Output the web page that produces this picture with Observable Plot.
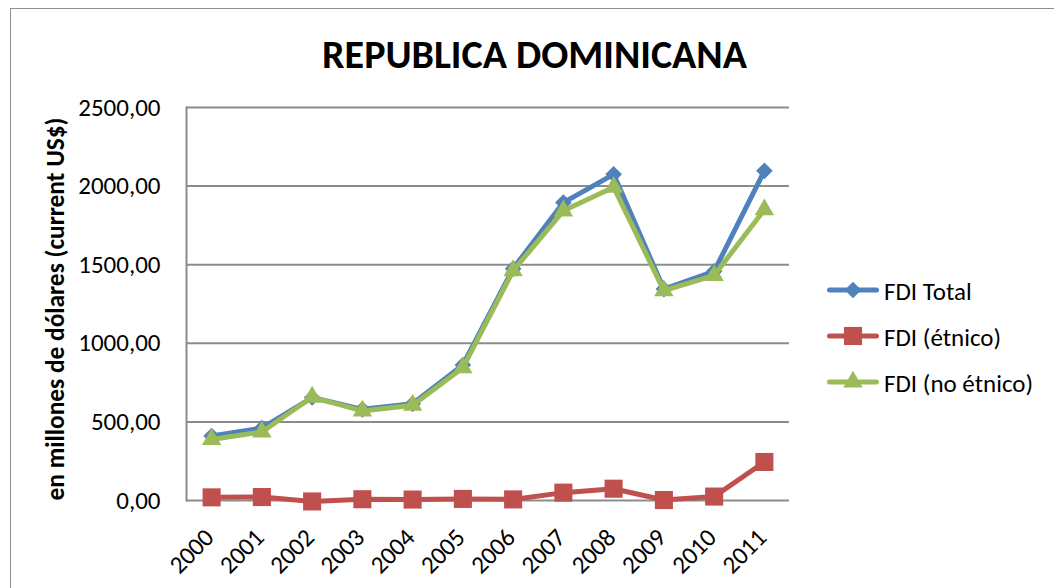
<!DOCTYPE html>
<html><head><meta charset="utf-8">
<script src="https://cdn.jsdelivr.net/npm/d3@7"></script>
<script src="https://cdn.jsdelivr.net/npm/@observablehq/plot@0.6"></script>
<style>
html,body{margin:0;padding:0;background:#fff;overflow:hidden;}
#wrap{position:relative;width:1054px;height:588px;font-family:Carlito,Lato,sans-serif;color:#000;overflow:hidden;}
#border{position:absolute;left:10px;top:8px;width:1200px;height:800px;border:1px solid #8f8f8f;box-sizing:border-box;}
#chart{position:absolute;left:0;top:0;}
#title{position:absolute;left:534.5px;top:29.5px;transform:translateX(-50%);font-weight:700;font-size:40px;white-space:nowrap;}
#ylabel{position:absolute;left:55px;top:309px;transform:translate(-50%,-50%) rotate(-90deg);font-weight:700;font-size:25.4px;white-space:nowrap;}
.leg{position:absolute;left:827px;height:30px;display:flex;align-items:center;font-size:25px;white-space:nowrap;}
.leg svg{margin-right:5px;}
</style></head><body>
<div id="wrap">
  <div id="border"></div>
  <div id="title">REPUBLICA DOMINICANA</div>
  <div id="ylabel">en millones de dólares (current US$)</div>
  <div id="chart"></div>
</div>
<script>
const years = ["2000","2001","2002","2003","2004","2005","2006","2007","2008","2009","2010","2011"];
const fdiTotal    = [410, 460, 655, 580, 615, 862, 1475, 1895, 2075, 1345, 1458, 2097];
const fdiEtnico   = [20, 22, -6, 8, 6, 10, 7, 50, 75, 3, 25, 245];
const fdiNoEtnico = [388, 436, 658, 570, 606, 845, 1462, 1843, 1993, 1335, 1432, 1850];
const seriesNames   = ["FDI Total", "FDI (étnico)", "FDI (no étnico)"];
const seriesValues  = [fdiTotal, fdiEtnico, fdiNoEtnico];
const seriesColors  = ["#4F81BD", "#C0504D", "#9BBB59"];
const seriesSymbols = ["diamond2", "square", "triangle"];
const seriesR       = [7.5, 10.2, 7.2];
const yTicks = [0, 500, 1000, 1500, 2000, 2500];

const fmt = d => d.toFixed(2).replace(".", ",");
const data = seriesNames.flatMap((s, i) => years.map((y, j) => ({series: s, year: y, value: seriesValues[i][j]})));

const marks = [
  Plot.gridY(yTicks, {stroke: "#8c8c8c", strokeOpacity: 1, strokeWidth: 2}),
  Plot.frame({anchor: "left", stroke: "#8c8c8c", strokeWidth: 2}),
  Plot.axisY(yTicks, {tickSize: 0, tickPadding: 26, fontSize: 25, tickFormat: fmt, label: null}),
  Plot.axisX({tickSize: 0, tickRotate: -45, fontSize: 25, tickPadding: 33, dx: -2, label: null})
];
seriesNames.forEach((s, i) => {
  const sub = data.filter(d => d.series === s);
  marks.push(Plot.line(sub, {x: "year", y: "value", stroke: "series", strokeWidth: 5, strokeLinejoin: "round"}));
  marks.push(Plot.dot(sub, {x: "year", y: "value", fill: "series", stroke: null, symbol: "series", r: seriesR[i]}));
});

const chart = Plot.plot({
  width: 1054, height: 588,
  marginLeft: 186, marginRight: 265, marginTop: 107, marginBottom: 88,
  style: {fontFamily: "Carlito, Lato, sans-serif", background: "transparent", color: "#000"},
  x: {type: "point", domain: years, padding: 0.5, round: false},
  y: {domain: [0, 2500]},
  color: {domain: seriesNames, range: seriesColors},
  symbol: {domain: seriesNames, range: seriesSymbols},
  marks
});
document.getElementById("chart").appendChild(chart);

const legendRows = [291, 337, 383];
const wrap = document.getElementById("wrap");
const symMap = {diamond2: d3.symbolDiamond2, square: d3.symbolSquare, triangle: d3.symbolTriangle};
seriesNames.forEach((s, i) => {
  const row = document.createElement("div");
  row.className = "leg";
  row.style.top = (legendRows[i] - 15) + "px";
  const svg = d3.create("svg").attr("width", 52).attr("height", 30);
  svg.append("line").attr("x1", 2.5).attr("x2", 49.5).attr("y1", 14).attr("y2", 14)
    .attr("stroke", seriesColors[i]).attr("stroke-width", 5).attr("stroke-linecap", "round");
  svg.append("path").attr("transform", "translate(26,14)")
    .attr("d", d3.symbol(symMap[seriesSymbols[i]], Math.PI * seriesR[i] * seriesR[i])())
    .attr("fill", seriesColors[i]);
  row.appendChild(svg.node());
  const t = document.createElement("span");
  t.textContent = s;
  row.appendChild(t);
  wrap.appendChild(row);
});
</script>
</body></html>
